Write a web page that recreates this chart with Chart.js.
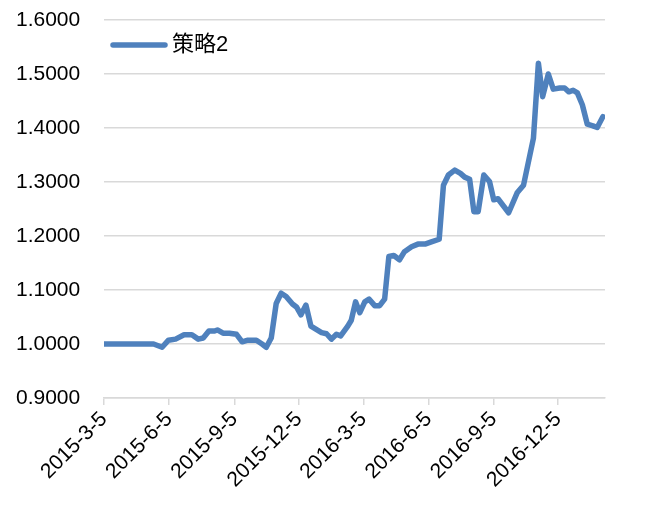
<!DOCTYPE html>
<html>
<head>
<meta charset="utf-8">
<script src="https://cdn.jsdelivr.net/npm/chart.js@4/dist/chart.umd.min.js"></script>
<style>
    body { margin: 0; background: #fff; }
    #wrap { width: 655px; height: 515px; }
</style>
</head>
<body>
<div id="wrap"><canvas id="chart"></canvas></div>
<script>
// days counted from 2015-3-5
const dayOffsets = [
    0, 7, 14, 21, 28, 35, 42, 49, 56, 63, 70, 82, 91, 101, 113, 124, 133, 140, 148, 156,
    160, 168, 177, 187, 195, 203, 215, 223, 229, 236, 243, 250, 257, 266, 272, 278, 285, 292,
    307, 314, 321, 328, 334, 344, 349, 355, 361, 368, 374, 382, 389, 396, 402, 409, 417, 424,
    434, 443, 453, 462, 473, 479, 486, 495, 503, 509, 516, 522, 528, 536, 544, 550, 556, 571,
    583, 592, 606, 613, 619, 627, 634, 643, 650, 656, 662, 668, 675, 682, 690, 696, 704
];
const strategy2 = [
    1.000, 1.000, 1.000, 1.000, 1.000, 1.000, 1.000, 1.000, 1.000, 1.000, 1.000, 0.994, 1.007, 1.009, 1.017, 1.017, 1.009, 1.011, 1.024, 1.024,
    1.026, 1.020, 1.020, 1.018, 1.004, 1.007, 1.007, 1.000, 0.994, 1.011, 1.075, 1.094, 1.088, 1.074, 1.068, 1.054, 1.072, 1.033,
    1.021, 1.019, 1.009, 1.018, 1.015, 1.033, 1.044, 1.078, 1.058, 1.078, 1.083, 1.071, 1.071, 1.083, 1.162, 1.164, 1.156, 1.171,
    1.180, 1.185, 1.185, 1.189, 1.194, 1.294, 1.313, 1.322, 1.316, 1.309, 1.305, 1.245, 1.245, 1.313, 1.301, 1.267, 1.269, 1.243,
    1.280, 1.294, 1.381, 1.520, 1.458, 1.500, 1.472, 1.474, 1.474, 1.467, 1.470, 1.465, 1.443, 1.407, 1.404, 1.401, 1.421
];
const seriesName = "策略2";
const tickDays = [0, 92, 184, 275, 366, 458, 550, 641];
const tickLabels = ["2015-3-5", "2015-6-5", "2015-9-5", "2015-12-5", "2016-3-5", "2016-6-5", "2016-9-5", "2016-12-5"];

const fontFamily = "'Liberation Sans', 'Noto Sans CJK SC', sans-serif";
const gridColor = "#D9D9D9";
const lineColor = "#4F81BD";

const points = dayOffsets.map((d, i) => ({x: d, y: strategy2[i]}));

// legend sits inside the plot, top left, like the excel one
const insideLegend = {
    id: "insideLegend",
    afterDraw(chart) {
        const ctx = chart.ctx;
        const area = chart.chartArea;
        const ds = chart.data.datasets[0];
        const y = area.top + 25;
        ctx.save();
        ctx.strokeStyle = ds.borderColor;
        ctx.lineWidth = ds.borderWidth;
        ctx.lineCap = "round";
        ctx.beginPath();
        ctx.moveTo(area.left + 9, y);
        ctx.lineTo(area.left + 61, y);
        ctx.stroke();
        ctx.fillStyle = "#000";
        ctx.font = "22px " + fontFamily;
        ctx.textBaseline = "middle";
        ctx.fillText(ds.label, area.left + 68, y);
        ctx.restore();
    }
};

new Chart(document.getElementById("chart"), {
    type: "line",
    data: {
        datasets: [{
            label: seriesName,
            data: points,
            borderColor: lineColor,
            backgroundColor: lineColor,
            borderWidth: 5.5,
            borderCapStyle: "round",
            borderJoinStyle: "round",
            pointRadius: 0,
            tension: 0,
            fill: false
        }]
    },
    plugins: [insideLegend],
    options: {
        responsive: true,
        maintainAspectRatio: false,
        animation: false,
        layout: {padding: {top: 20, right: 50, left: 16, bottom: 0}},
        plugins: {
            tooltip: {enabled: false},
            legend: {display: false}
        },
        scales: {
            x: {
                type: "linear",
                min: 0,
                max: 707,
                afterBuildTicks: (scale) => {
                    scale.ticks = tickDays.map(v => ({value: v}));
                },
                afterFit: (scale) => { scale.height = 117; },
                grid: {display: true, drawOnChartArea: false, drawTicks: true, tickLength: 7, color: gridColor, lineWidth: 1.5},
                border: {display: true, color: gridColor, width: 1.5},
                ticks: {
                    autoSkip: false,
                    minRotation: 45,
                    maxRotation: 45,
                    padding: 2,
                    color: "#000",
                    font: {family: fontFamily, size: 21},
                    callback: (value, index) => tickLabels[index]
                }
            },
            y: {
                min: 0.9,
                max: 1.6,
                afterFit: (scale) => { scale.width = 88; },
                grid: {color: gridColor, lineWidth: 1.5, drawTicks: false},
                border: {display: false},
                ticks: {
                    stepSize: 0.1,
                    padding: 0,
                    crossAlign: "far",
                    color: "#000",
                    font: {family: fontFamily, size: 21},
                    callback: (value) => value.toFixed(4)
                }
            }
        }
    }
});
</script>
</body>
</html>
